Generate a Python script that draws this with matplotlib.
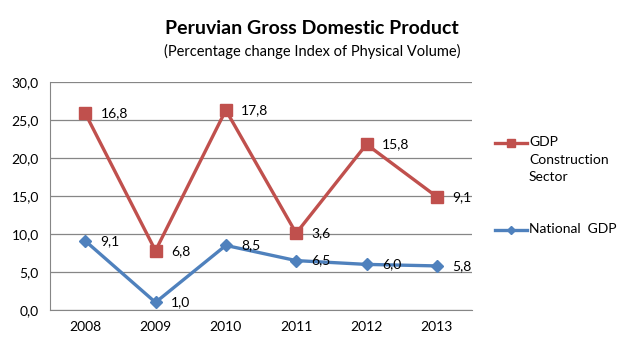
import matplotlib.pyplot as plt
from matplotlib.lines import Line2D

years = ["2008", "2009", "2010", "2011", "2012", "2013"]
national_gdp = [9.1, 1.0, 8.5, 6.5, 6.0, 5.8]
construction_gdp = [16.8, 6.8, 17.8, 3.6, 15.8, 9.1]

plt.rcParams['font.family'] = ['Lato', 'DejaVu Sans']

W, H = 629, 349
fig = plt.figure(figsize=(W / 100, H / 100), dpi=100)
ax = fig.add_axes([50 / W, 1 - 310 / H, 422 / W, 228 / H])

x = [i + 0.5 for i in range(len(years))]
# stacked line chart: construction is drawn on top of national
stacked = [a + b for a, b in zip(national_gdp, construction_gdp)]

red = "#C0504D"
blue = "#4F81BD"
ax.plot(x, stacked, color=red, lw=2.4, marker="s", ms=8)
ax.plot(x, national_gdp, color=blue, lw=2.4, marker="D", ms=6)

for xi, yi, v in zip(x, stacked, construction_gdp):
    ax.annotate(f"{v:.1f}".replace(".", ","), (xi, yi), xytext=(11, 0),
                textcoords="offset points", va="center", fontsize=10)
for xi, yi, v in zip(x, national_gdp, national_gdp):
    ax.annotate(f"{v:.1f}".replace(".", ","), (xi, yi), xytext=(11, 0),
                textcoords="offset points", va="center", fontsize=10)

ax.set_xlim(0, 6)
ax.set_ylim(0, 30)
ticks = [0, 5, 10, 15, 20, 25, 30]
ax.set_yticks(ticks)
ax.set_yticklabels([f"{t:.1f}".replace(".", ",") for t in ticks], fontsize=10)
ax.set_xticks(x)
ax.set_xticklabels(years, fontsize=10)
ax.tick_params(length=0, pad=8)
ax.yaxis.grid(True, color="#868686", lw=0.9)
ax.set_axisbelow(True)
for s in ["top", "right"]:
    ax.spines[s].set_visible(False)
ax.spines["left"].set_color("#868686")
ax.spines["bottom"].set_color("#868686")

fig.text(312 / W, 1 - 29 / H, "Peruvian Gross Domestic Product", ha="center", va="center",
         fontsize=14, fontweight="bold")
fig.text(312 / W, 1 - 51 / H, "(Percentage change Index of Physical Volume)", ha="center",
         va="center", fontsize=10.5)

# legend drawn by hand so the handle sits on the first text line
for yy, col, mk, ms, label in [(143, red, "s", 6, "GDP\nConstruction\nSector"),
                               (230, blue, "D", 4.5, "National  GDP")]:
    fig.add_artist(Line2D([495 / W, 527 / W], [1 - yy / H, 1 - yy / H], color=col, lw=2.4,
                          transform=fig.transFigure))
    fig.add_artist(Line2D([511 / W], [1 - yy / H], color=col, marker=mk, ms=ms,
                          transform=fig.transFigure))
    fig.text(529 / W, 1 - (yy - 7) / H, label, ha="left", va="top", fontsize=10,
             linespacing=1.55)

fig.savefig("out.png", dpi=100)
